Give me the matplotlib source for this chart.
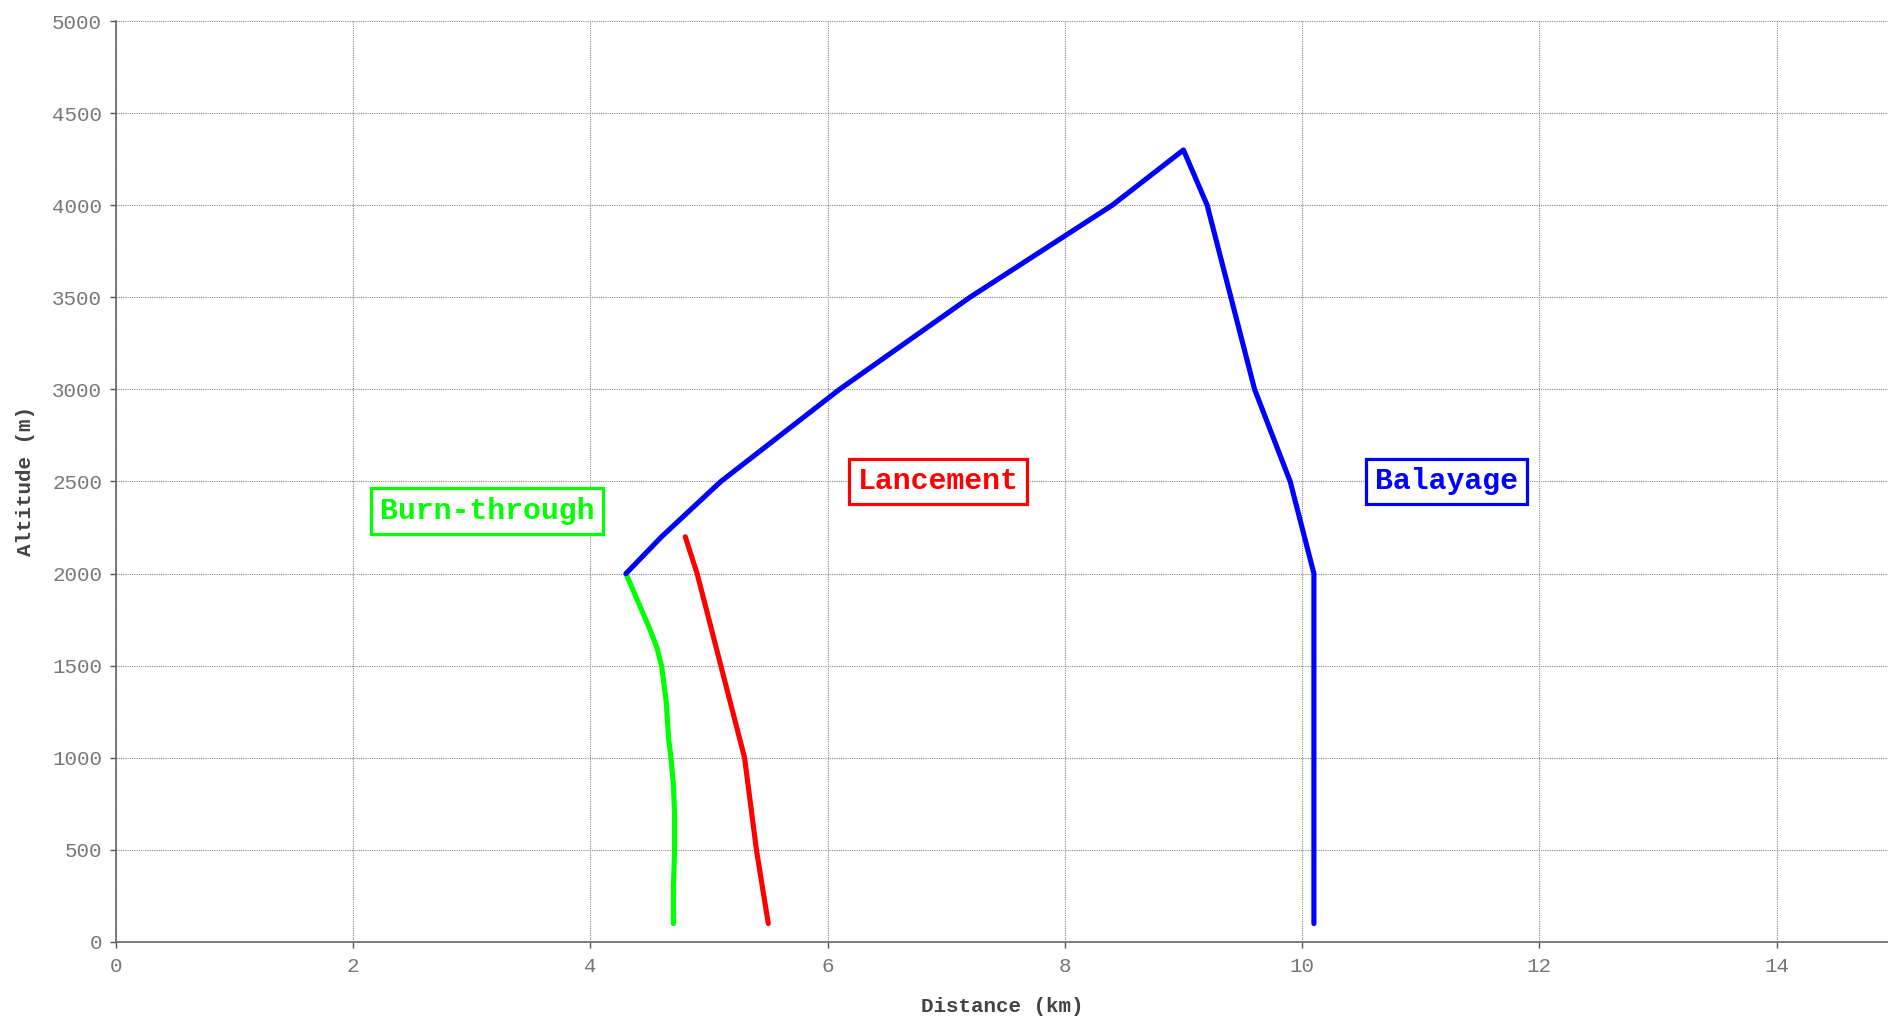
import numpy as np
import matplotlib
matplotlib.use("Agg")
import matplotlib.pyplot as plt

# Profile data (distance in km, altitude in m)
balayage_x = [10.1, 10.1, 9.9, 9.6, 9.2, 9.0, 8.4, 7.2, 6.1, 5.1, 4.6, 4.3]
balayage_y = [100, 2000, 2500, 3000, 4000, 4300, 4000, 3500, 3000, 2500, 2200, 2000]

lancement_x = [4.8, 4.9, 5.3, 5.4, 5.5]
lancement_y = [2200, 2000, 1000, 500, 100]

burn_x = [4.30, 4.40, 4.50, 4.56, 4.60, 4.62, 4.64, 4.66, 4.68, 4.70, 4.71, 4.71, 4.70, 4.70]
burn_y = [2000, 1850, 1700, 1600, 1500, 1400, 1300, 1100, 1000, 850, 700, 500, 300, 100]

labels = ["Burn-through", "Lancement", "Balayage"]
label_x = [3.13, 6.93, 11.22]
label_y = [2340, 2500, 2500]
colors = ["#00ff00", "#ff0000", "#0000ff"]

mono = "Liberation Mono"
grey = "#777777"

fig = plt.figure(figsize=(18.88, 10.25), dpi=100)
ax = fig.add_axes([0.0614, 0.081, 0.9386, 0.8985])

ax.plot(burn_x, burn_y, color=colors[0], lw=3.7, solid_capstyle="round", solid_joinstyle="round", zorder=3)
ax.plot(lancement_x, lancement_y, color=colors[1], lw=3.7, solid_capstyle="round", solid_joinstyle="round", zorder=3)
ax.plot(balayage_x, balayage_y, color=colors[2], lw=3.7, solid_capstyle="round", solid_joinstyle="round", zorder=3)

for txt, tx, ty, c in zip(labels, label_x, label_y, colors):
    ax.text(tx, ty, txt, color=c, fontsize=21.5, fontweight="bold", family=mono,
            ha="center", va="center", zorder=4,
            bbox=dict(boxstyle="square,pad=0.3", fc="white", ec=c, lw=2.3))

ax.set_xlim(0, 14.94)
ax.set_ylim(0, 5000)
ax.set_xticks(np.arange(0, 15, 2))
ax.set_yticks(np.arange(0, 5001, 500))
ax.grid(True, color="#8a8a8a", linestyle=(0, (1, 1)), lw=0.8)
ax.set_axisbelow(True)

for s in ["top", "right"]:
    ax.spines[s].set_visible(False)
for s in ["left", "bottom"]:
    ax.spines[s].set_color("#666666")
    ax.spines[s].set_linewidth(1.2)

ax.tick_params(axis="both", colors="#555555", labelcolor=grey, length=4, width=1, labelsize=15)
ax.tick_params(axis="y", pad=6)
ax.tick_params(axis="x", pad=7)
for lab in ax.get_xticklabels() + ax.get_yticklabels():
    lab.set_family(mono)

ax.set_xlabel("Distance (km)", family=mono, fontweight="bold", fontsize=15, color="#444444", labelpad=15)
ax.set_ylabel("Altitude (m)", family=mono, fontweight="bold", fontsize=15, color="#444444", labelpad=12)

fig.savefig("out.png", dpi=100)
